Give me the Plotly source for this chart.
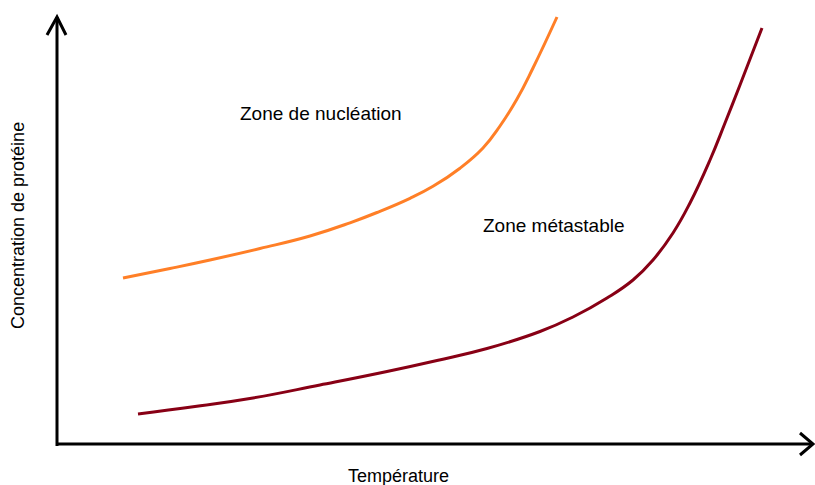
import plotly.graph_objects as go

W, H = 815, 485

# Curve data (temperature and concentration in arbitrary units)
nucleation_temp = [123, 170, 210, 260, 310, 350, 377, 410, 433, 460, 483, 500, 517, 533, 557]
nucleation_conc = [207, 216.5, 225, 236.5, 249, 262.2, 272.5, 286.7, 298.7, 316.8, 337, 359, 386, 417, 468]

metastable_temp = [138, 195, 253, 320, 387, 437, 487, 540, 573, 607, 633, 653, 673, 690, 710, 725, 740, 762]
metastable_conc = [71, 78.5, 87, 100, 113.5, 124.5, 136.5, 153.5, 168, 187, 205, 225, 252, 282, 325, 362, 400, 457]

zone_labels = ["Zone de nucléation", "Zone métastable"]
x_label = "Température"
y_label = "Concentration de protéine"

fig = go.Figure()
fig.add_trace(go.Scatter(x=nucleation_temp, y=nucleation_conc, mode="lines",
                         line=dict(color="#FF7F27", width=3, shape="spline", smoothing=1.3),
                         hoverinfo="skip"))
fig.add_trace(go.Scatter(x=metastable_temp, y=metastable_conc, mode="lines",
                         line=dict(color="#880015", width=3, shape="spline", smoothing=1.3),
                         hoverinfo="skip"))

ax = dict(color="black", width=3)
shapes = [
    dict(type="line", x0=57, y0=485 - 446, x1=57, y1=485 - 17, line=ax),
    dict(type="line", x0=56, y0=485 - 444, x1=813, y1=485 - 444, line=ax),
    dict(type="path", path=f"M 47 {485-35} L 57 {485-17} L 66 {485-35}", line=ax),
    dict(type="path", path=f"M 800 {485-433} L 813 {485-444} L 800 {485-455}", line=ax),
]

font = "Liberation Sans, Arial, sans-serif"
annotations = [
    dict(x=321, y=485 - 113, text=zone_labels[0], showarrow=False, xanchor="center", yanchor="middle",
         font=dict(family=font, size=19, color="black")),
    dict(x=554, y=485 - 225, text=zone_labels[1], showarrow=False, xanchor="center", yanchor="middle",
         font=dict(family=font, size=19, color="black")),
    dict(x=398, y=485 - 476, text=x_label, showarrow=False, xanchor="center", yanchor="middle",
         font=dict(family=font, size=18, color="black")),
    dict(x=18, y=485 - 226, text=y_label, showarrow=False, xanchor="center", yanchor="middle", textangle=-90,
         font=dict(family=font, size=18, color="black")),
]

fig.update_layout(
    width=W, height=H, margin=dict(l=0, r=0, t=0, b=0),
    paper_bgcolor="white", plot_bgcolor="white", showlegend=False,
    xaxis=dict(range=[0, W], visible=False, fixedrange=True),
    yaxis=dict(range=[0, H], visible=False, fixedrange=True),
    shapes=shapes, annotations=annotations,
)
fig.write_html("out.html", config={"displayModeBar": False},
               post_script="document.body.style.margin='0';document.body.style.overflow='hidden';")
